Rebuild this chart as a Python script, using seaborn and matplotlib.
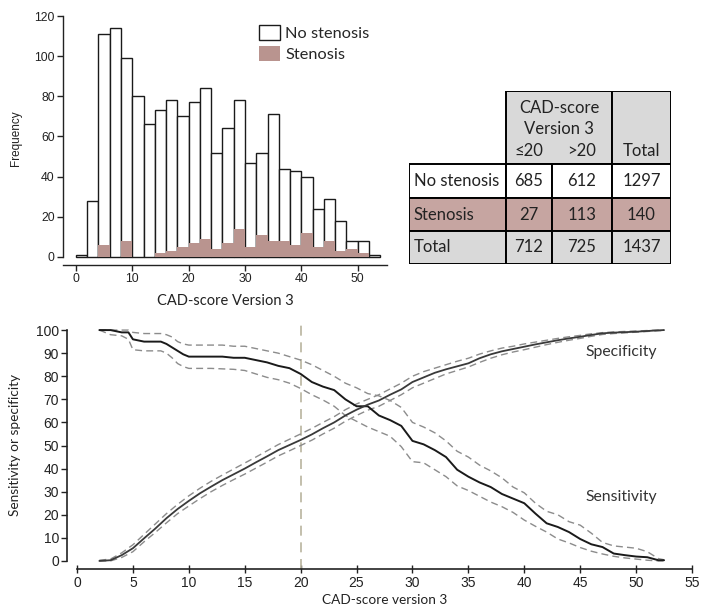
# CAD-score version 3: histogram by stenosis, 2x2 table and sensitivity/specificity curves
import numpy as np
import matplotlib
matplotlib.use('Agg')
import matplotlib.pyplot as plt
import seaborn as sns
from matplotlib.patches import Patch, Rectangle

# histogram counts, bins of width 2 from 0 to 54
bin_starts = [0, 2, 4, 6, 8, 10, 12, 14, 16, 18, 20, 22, 24, 26, 28, 30, 32, 34, 36, 38, 40, 42, 44, 46, 48, 50, 52]
no_stenosis = [1, 28, 111, 114, 99, 80, 66, 73, 78, 70, 77, 84, 52, 64, 78, 47, 52, 71, 44, 43, 40, 24, 29, 18, 8, 8, 1]
stenosis = [0, 0, 6, 0, 8, 0, 0, 2, 3, 5, 7, 9, 4, 7, 14, 5, 11, 8, 8, 6, 12, 5, 8, 3, 4, 2, 0]

# 2x2 table
row_labels = ['No stenosis', 'Stenosis', 'Total']
col_labels = ['≤20', '>20', 'Total']
table_counts = [[685, 612, 1297], [27, 113, 140], [712, 725, 1437]]

# sensitivity with confidence band
sens_x = [2, 3, 4, 4.6, 5, 6, 7, 7.5, 8, 8.5, 9, 9.5, 10, 11, 12, 13, 14, 15, 16, 17, 18, 19,
          20, 21, 22, 23, 24, 25, 26, 27, 28, 29, 30, 31, 32, 33, 34, 35, 36, 37, 38, 39,
          40, 41, 42, 43, 44, 45, 46, 47, 48, 49, 50, 51, 52, 52.5]
sens = [100, 100, 99, 99, 96, 95, 95, 95, 94, 92.5, 91, 89.5, 88.5, 88.5, 88.5, 88.5, 88, 88, 87, 86, 84.5, 83.5,
        81, 77.5, 75.5, 74, 70, 67, 67, 63, 61, 58.5, 52, 50.5, 48, 45, 39.5, 36.5, 34, 32, 29, 27,
        25, 20.5, 16.3, 14.7, 12.5, 9.5, 7.2, 6, 3.2, 2.5, 1.9, 1.6, 0.3, 0.3]
sens_hi = [100, 100, 100, 100, 99, 98.5, 98.5, 98.5, 98, 97, 95, 94, 93.5, 93.5, 93.5, 93.5, 93, 93, 92, 91, 90, 88.5,
           87, 85, 82.5, 80, 77, 75, 72.5, 71.5, 69.5, 66.5, 60, 58, 55.5, 52, 47.5, 45, 41.5, 39, 36, 32,
           29.5, 25, 21.5, 20, 17, 15.5, 12, 8, 6.5, 6, 5.5, 4, 1, 0.5]
sens_lo = [100, 98, 97.5, 96, 91.5, 91, 91, 91, 90, 88, 85.5, 84.2, 83.4, 83.4, 83.4, 83.2, 83, 82.5, 81, 79.5, 78.5, 77,
           74.7, 72, 69.7, 67, 63, 60.5, 58, 56, 54, 49.5, 43, 42.5, 39.5, 36.5, 32.5, 30.5, 28, 25.5, 23.5, 21,
           17.7, 15, 12.5, 9.5, 7.8, 5.8, 4.2, 3, 2, 1.3, 0.8, 0.3, 0, 0]

# specificity with confidence band
spec_x = [2, 3, 4, 5, 6, 7, 8, 9, 10, 11, 12, 13, 14, 15, 16, 17, 18, 19, 20, 21, 22, 23, 24, 25, 26, 27,
          28, 29, 30, 31, 32, 33, 34, 35, 36, 37, 38, 39, 40, 41, 42, 43, 44, 45, 46, 47, 48, 49, 50, 51, 52, 52.5]
spec = [0, 0.3, 2.5, 5.5, 9.8, 14, 18.5, 22.5, 26, 29.3, 32.2, 35, 37.5, 40, 42.7, 45.3, 48, 50.2, 52.4, 54.8, 57.5, 60, 63, 65.5, 67.7, 69.5,
        72, 74.3, 77.5, 79.5, 81.5, 83, 84.3, 85.6, 87.8, 89.5, 90.8, 91.8, 92.8, 93.8, 94.7, 95.6, 96.4, 97.1, 97.9, 98.6, 98.9, 99.1, 99.3, 99.6, 99.9, 100]
spec_hi = [0.3, 0.8, 3.5, 7, 11.5, 16, 20.5, 24.5, 28.2, 31.5, 34.5, 37.2, 39.8, 42.4, 45, 47.7, 50.4, 52.7, 55, 57.4, 60, 62.5, 65.5, 68, 70, 72,
           74.5, 77, 80, 82, 83.5, 85, 86.5, 87.8, 89.6, 91, 92.2, 93, 94, 94.8, 95.6, 96.4, 97.1, 97.7, 98.4, 98.9, 99.2, 99.4, 99.6, 99.8, 100, 100]
spec_lo = [0, 0, 1.5, 4, 8.3, 12.3, 16.5, 20.5, 23.8, 27, 30, 32.7, 35.2, 37.6, 40.2, 42.8, 45.5, 47.7, 50, 52.3, 55, 57.5, 60.5, 63, 65.3, 67,
           69.5, 72, 75, 77, 79, 81, 82.5, 84, 86, 87.8, 89.3, 90.5, 91.5, 92.6, 93.7, 94.7, 95.6, 96.4, 97.3, 98.1, 98.5, 98.8, 99.1, 99.4, 99.7, 99.8]

cutoff = 20

sns.set_theme(style='ticks')
plt.rcParams['font.family'] = ['Liberation Sans', 'DejaVu Sans']
calibri = ['Lato', 'DejaVu Sans']
ink = '#222222'
brown = '#b9948f'

fig = plt.figure(figsize=(7.08, 6.13), dpi=100)

# ---- histogram
ax1 = fig.add_axes([63 / 708, 1 - 265 / 613, 324 / 708, 253 / 613])
edges = bin_starts + [54]
centers = np.array(bin_starts) + 1
sns.histplot(x=centers, weights=no_stenosis, bins=edges, ax=ax1, color='white',
             edgecolor='#1a1a1a', linewidth=1.0, alpha=1)
sns.histplot(x=centers, weights=stenosis, bins=edges, ax=ax1, color=brown,
             linewidth=0, alpha=1)
ax1.set_xlim(-2.3, 55.2)
ax1.set_ylim(-4, 122)
ax1.set_xticks([0, 10, 20, 30, 40, 50])
ax1.set_yticks([0, 20, 40, 60, 80, 100, 120])
sns.despine(ax=ax1)
ax1.spines['left'].set_bounds(0, 120)
for s in ['left', 'bottom']:
    ax1.spines[s].set_color(ink)
    ax1.spines[s].set_linewidth(1.0)
ax1.tick_params(labelsize=8.8, length=4, width=1, color=ink, labelcolor=ink, pad=2)
ax1.set_xlabel('CAD-score Version 3', fontsize=10.5, family=calibri, color=ink, labelpad=6)
ax1.set_ylabel('Frequency', fontsize=8.5, color=ink, labelpad=9)
handles = [Patch(facecolor='white', edgecolor='#1a1a1a', linewidth=1.0),
           Patch(facecolor=brown, edgecolor='none')]
ax1.legend(handles, ['No stenosis', 'Stenosis'], loc='upper left', bbox_to_anchor=(0.565, 1.0),
           frameon=False, prop={'family': calibri, 'size': 11.8}, handlelength=1.3,
           handleheight=1.0, handletextpad=0.3, labelspacing=0.3, borderaxespad=0.4)

# ---- table
axt = fig.add_axes([409 / 708, 1 - 264 / 613, 262 / 708, 173 / 613])
axt.set_xlim(0, 262)
axt.set_ylim(173, 0)
axt.axis('off')
col_edges = [0, 97, 143, 203, 262]
row_edges = [0, 73, 107, 140, 173]
grey = '#d9d9d9'
row_fill = ['white', '#c6a5a1', grey]
lw = 1.4
axt.add_patch(Rectangle((col_edges[1], 0), col_edges[3] - col_edges[1], row_edges[1],
                        facecolor=grey, edgecolor='black', linewidth=lw))
axt.add_patch(Rectangle((col_edges[3], 0), col_edges[4] - col_edges[3], row_edges[1],
                        facecolor=grey, edgecolor='black', linewidth=lw))
axt.text((col_edges[1] + col_edges[3]) / 2, 17, 'CAD-score', ha='center', va='center',
         family=calibri, fontsize=12, color=ink)
axt.text((col_edges[1] + col_edges[3]) / 2, 38, 'Version 3', ha='center', va='center',
         family=calibri, fontsize=12, color=ink)
for j, lab in enumerate(col_labels):
    axt.text((col_edges[j + 1] + col_edges[j + 2]) / 2, 60, lab, ha='center', va='center',
             family=calibri, fontsize=12, color=ink)
for i, lab in enumerate(row_labels):
    y0, y1 = row_edges[i + 1], row_edges[i + 2]
    for j in range(4):
        axt.add_patch(Rectangle((col_edges[j], y0), col_edges[j + 1] - col_edges[j], y1 - y0,
                                facecolor=row_fill[i], edgecolor='black', linewidth=lw))
    axt.text(5, (y0 + y1) / 2, lab, ha='left', va='center', family=calibri, fontsize=12, color=ink)
    for j, v in enumerate(table_counts[i]):
        axt.text((col_edges[j + 1] + col_edges[j + 2]) / 2, (y0 + y1) / 2, str(v),
                 ha='center', va='center', family=calibri, fontsize=12, color=ink)

# ---- sensitivity / specificity
ax2 = fig.add_axes([77 / 708, 1 - 569 / 613, 615 / 708, 247 / 613])
ax2.axvline(cutoff, color='#b9b49e', linewidth=1.2, linestyle=(0, (6, 4)), zorder=1)
dash = (0, (5, 3))
for xs, ys in [(sens_x, sens_hi), (sens_x, sens_lo), (spec_x, spec_hi), (spec_x, spec_lo)]:
    sns.lineplot(x=xs, y=ys, ax=ax2, color='#8c8c8c', linewidth=1.0, linestyle=dash,
                 estimator=None, sort=False)
sns.lineplot(x=sens_x, y=sens, ax=ax2, color='#1a1a1a', linewidth=1.4, estimator=None, sort=False)
sns.lineplot(x=spec_x, y=spec, ax=ax2, color='#3a3a3a', linewidth=1.3, estimator=None, sort=False)
ax2.set_xlim(0, 55)
ax2.set_ylim(-3.5, 103.5)
ax2.set_xticks(range(0, 56, 5))
ax2.set_yticks(range(0, 101, 10))
sns.despine(ax=ax2)
ax2.spines['left'].set_position(('outward', 7))
ax2.spines['left'].set_bounds(0, 100)
for s in ['left', 'bottom']:
    ax2.spines[s].set_color(ink)
    ax2.spines[s].set_linewidth(1.2)
ax2.tick_params(axis='x', direction='inout', length=6, width=1, color=ink, labelcolor=ink,
                labelsize=10, pad=2)
ax2.tick_params(axis='y', direction='out', length=4, width=1, color=ink, labelcolor=ink,
                labelsize=10, pad=2)
ax2.set_xlabel('CAD-score version 3', fontsize=9.8, family=calibri, color=ink, labelpad=3)
ax2.set_ylabel('Sensitivity or specificity', fontsize=9.8, family=calibri, color=ink, labelpad=11)
ax2.text(45.5, 90.6, 'Specificity', ha='left', va='center', family=calibri, fontsize=11.3, color='#333333')
ax2.text(45.5, 27.7, 'Sensitivity', ha='left', va='center', family=calibri, fontsize=11.3, color='#333333')

fig.savefig('out.png', dpi=100)
